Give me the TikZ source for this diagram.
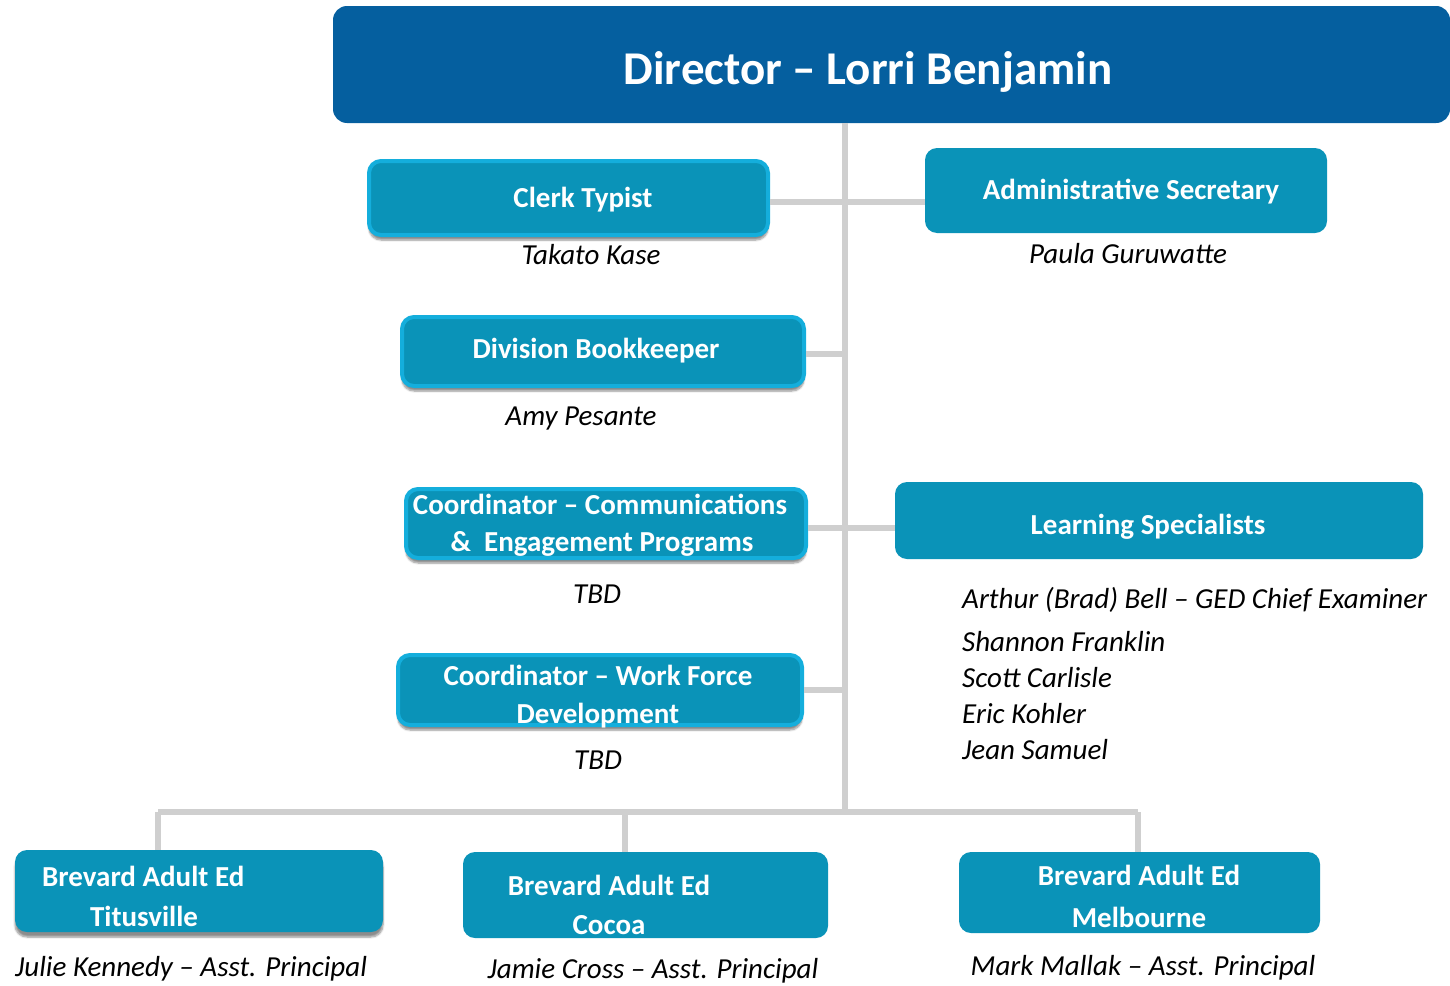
\documentclass[tikz,border=0pt]{standalone}
\usepackage{fontspec}
\setmainfont{Carlito}
\usetikzlibrary{shadows.blur}
\definecolor{dirblue}{HTML}{055F9F}
\definecolor{boxfill}{HTML}{0A93B8}
\definecolor{boxedge}{HTML}{14AEDC}
\definecolor{linegray}{HTML}{CFCFCF}
\tikzset{
  dirbox/.style={fill=dirblue, rounded corners=14pt, inner sep=0pt},
  rolebox/.style={fill=boxfill, draw=boxedge, line width=4pt, rounded corners=12pt, inner sep=0pt,
     blur shadow={shadow xshift=0pt, shadow yshift=-5pt, shadow blur steps=6, shadow opacity=45}},
  plainbox/.style={fill=boxfill, rounded corners=12pt, inner sep=0pt},
  shadebox/.style={fill=boxfill, rounded corners=12pt, inner sep=0pt,
     blur shadow={shadow xshift=0pt, shadow yshift=-5pt, shadow blur steps=6, shadow opacity=45}},
  roletext/.style={text=white, font=\bfseries\fontsize{29}{40}\selectfont, inner sep=0pt, anchor=center},
  dirtext/.style={text=white, font=\bfseries\fontsize{47}{54}\selectfont, inner sep=0pt},
  nametext/.style={text=black, font=\itshape\fontsize{29}{36}\selectfont, inner sep=0pt},
  conn/.style={draw=linegray, line width=6pt},
}
\begin{document}
\begin{tikzpicture}[x=1pt,y=-1pt]
\useasboundingbox (0,0) rectangle (1450,985);
% boxes
\node[dirbox, minimum width=1117pt, minimum height=117pt] (dir) at (891.5,64.5) {};
\node[rolebox, minimum width=399pt, minimum height=74pt] (clerk) at (568.5,198) {};
\node[plainbox, minimum width=402pt, minimum height=85pt] (admin) at (1126,190.5) {};
\node[rolebox, minimum width=402pt, minimum height=69pt] (book) at (603,351.5) {};
\node[rolebox, minimum width=400pt, minimum height=69pt] (comm) at (606,523.5) {};
\node[plainbox, minimum width=528pt, minimum height=77pt] (learn) at (1159,520.5) {};
\node[rolebox, minimum width=404pt, minimum height=70pt] (wf) at (600,690) {};
\node[shadebox, minimum width=368pt, minimum height=82pt] (tit) at (199,891) {};
\node[plainbox, minimum width=365pt, minimum height=86pt] (coc) at (645.5,895) {};
\node[plainbox, minimum width=361pt, minimum height=81pt] (mel) at (1139.5,892.5) {};
% connectors
\coordinate (bus) at (845,812);
\coordinate (busL) at (158,812);
\coordinate (busM) at (625,812);
\coordinate (busR) at (1138,812);
\draw[conn] (dir.south -| bus) -- (bus);
\draw[conn] (busL) -- (busR);
\draw[conn] (busL) -- (tit.north -| busL);
\draw[conn] (busM) -- (coc.north -| busM);
\draw[conn] (busR) -- (mel.north -| busR);
\draw[conn] (clerk.east |- 0,202) -- (admin.west |- 0,202);
\draw[conn] (book.east |- 0,354) -- (bus |- 0,354);
\draw[conn] (comm.east |- 0,528) -- (learn.west |- 0,528);
\draw[conn] (wf.east |- 0,690) -- (bus |- 0,690);
% texts
\node[dirtext] (tdir) at (868,72) {Director – Lorri Benjamin};
\node[roletext] (tclerk) at (583,200) {Clerk Typist};
\node[nametext] (nclerk) at (591,255) {Takato Kase};
\node[roletext] (tadmin) at (1131,192) {Administrative Secretary};
\node[nametext] (nadmin) at (1128,254) {Paula Guruwatte};
\node[roletext] (tbook) at (596,351) {Division Bookkeeper};
\node[nametext] (nbook) at (581,419) {Amy Pesante};
\node[roletext] (tcomm1) at (600,504) {Coordinator – Communications};
\node[roletext] (tcomm2) at (602,544) {\&\ \ Engagement Programs};
\node[nametext] (ncomm) at (597,594) {TBD};
\node[roletext] (tlearn) at (1148,527) {Learning Specialists};
\node[nametext, anchor=west] (nl1) at (962,600) {Arthur (Brad) Bell – GED Chief Examiner};
\node[nametext, anchor=west] (nl2) at (962,642) {Shannon Franklin};
\node[nametext, anchor=west] (nl3) at (962,678) {Scott Carlisle};
\node[nametext, anchor=west] (nl4) at (962,714) {Eric Kohler};
\node[nametext, anchor=west] (nl5) at (962,750) {Jean Samuel};
\node[roletext] (twf1) at (598,675) {Coordinator – Work Force};
\node[roletext] (twf2) at (598,716) {Development};
\node[nametext] (nwf) at (598,760) {TBD};
\node[roletext, anchor=west] (ttit1) at (42,876) {Brevard Adult Ed};
\node[roletext] (ttit2) at (144,916) {Titusville};
\node[nametext, anchor=west] (ntit) at (15,969) {Julie Kennedy – Asst. Principal};
\node[roletext] (tcoc1) at (609,885) {Brevard Adult Ed};
\node[roletext] (tcoc2) at (609,925) {Cocoa};
\node[nametext] (ncoc) at (653,971) {Jamie Cross – Asst. Principal};
\node[roletext] (tmel1) at (1139,875) {Brevard Adult Ed};
\node[roletext] (tmel2) at (1139,917) {Melbourne};
\node[nametext] (nmel) at (1143,968) {Mark Mallak – Asst. Principal};
\end{tikzpicture}
\end{document}
